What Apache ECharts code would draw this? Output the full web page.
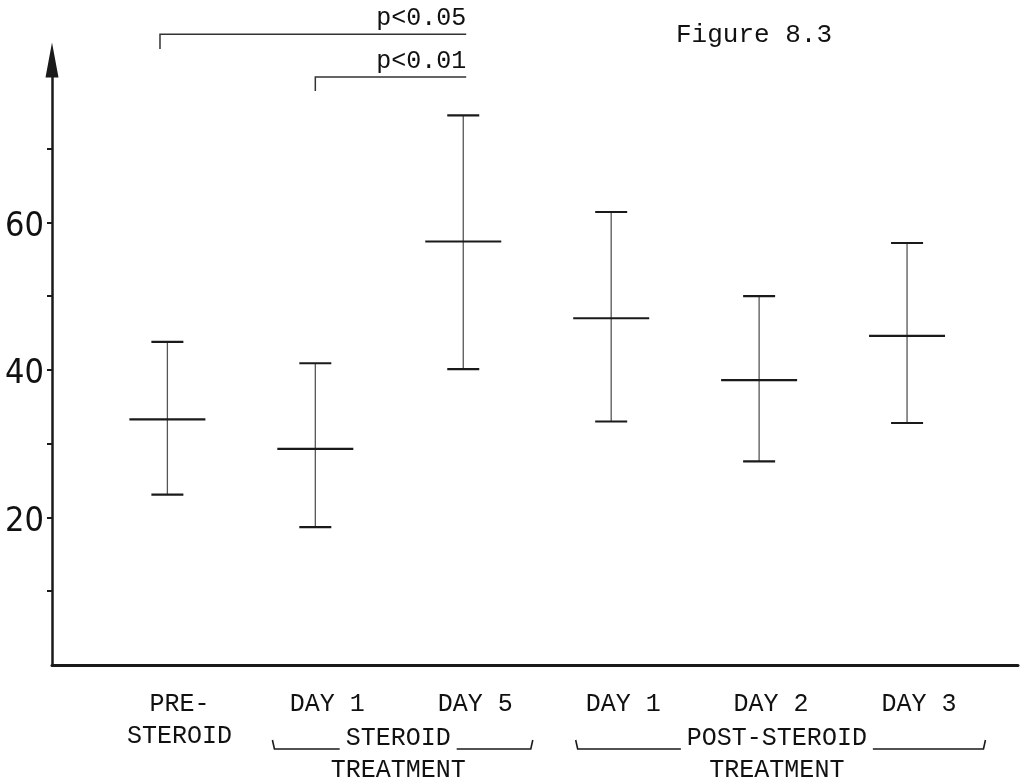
<!DOCTYPE html>
<html><head><meta charset="utf-8">
<script src="https://cdn.jsdelivr.net/npm/echarts@6/dist/echarts.min.js"></script>
<style>html,body{margin:0;padding:0;background:#fff}#c{width:1032px;height:782px}</style>
</head><body><div id="c"></div>
<script>
// ---- data ----
const categories = ['PRE-\nSTEROID', 'DAY 1', 'DAY 5', 'DAY 1', 'DAY 2', 'DAY 3'];
const means = [33.3, 29.3, 57.4, 47.0, 38.6, 44.6];
const upper = [43.8, 40.9, 74.5, 61.4, 50.0, 57.2];
const lower = [23.1, 18.7, 40.1, 33.0, 27.6, 32.8];
const yTickValues = [10, 20, 30, 40, 50, 60, 70];
const yLabelValues = [20, 40, 60];
const groupNames = ['STEROID', 'POST-STEROID'];
const groupSub = ['TREATMENT', 'TREATMENT'];
const groupStart = [1.71, 3.76];
const groupEnd = [3.47, 6.53];
const groupCenter = [2.56, 5.12];
const sigLabels = ['p<0.05', 'p<0.01'];
const sigFrom = [0.95, 2];
const sigTo = [3.02, 3.02];
const sigLevel = [85.5, 79.7];
const sigDrop = [83.5, 77.8];

const MONO = "'Liberation Mono','DejaVu Sans Mono',monospace";
const NARROW = "'Liberation Sans Narrow','DejaVu Sans Condensed','Roboto Condensed','Liberation Sans',sans-serif";
const INK = '#1a1a1a';
const TXT = '#111';

const chart = echarts.init(document.getElementById('c'), null, {renderer: 'canvas'});

const option = {
  animation: false,
  backgroundColor: '#ffffff',
  title: {
    text: 'Figure 8.3', left: 671, top: 17,
    textStyle: {fontFamily: MONO, fontSize: 26, fontWeight: 'normal', color: TXT}
  },
  grid: {left: 52, right: 14, top: 60, bottom: 117, containLabel: false},
  xAxis: {
    type: 'value', min: 0.22, max: 6.75,
    splitLine: {show: false},
    axisLine: {show: true, lineStyle: {color: INK, width: 3}},
    axisTick: {show: false},
    axisLabel: {
      show: true, customValues: [1, 2, 3, 4, 5, 6],
      formatter: v => categories[Math.round(v) - 1],
      fontFamily: MONO, fontSize: 25, color: TXT, lineHeight: 32,
      margin: 23, padding: [0, 0, 0, 24]
    }
  },
  yAxis: {
    type: 'value', min: 0, max: 82,
    splitLine: {show: false},
    axisLine: {
      show: true, lineStyle: {color: INK, width: 2.5},
      symbol: ['none', 'path://M6.5 0L13 35L0 35Z M6.5 11L9 32L4 32Z'],
      symbolSize: [13, 35]
    },
    axisTick: {show: true, customValues: yTickValues, length: 5, lineStyle: {color: INK, width: 2}},
    axisLabel: {
      show: true, customValues: yLabelValues, margin: 8,
      formatter: '{n|{value}}',
      rich: {n: {fontFamily: NARROW, fontSize: 34, color: TXT, padding: [9, 0, 0, 0]}}
    }
  },
  series: [
    {
      type: 'custom', name: 'error bars', clip: false,
      data: categories.map((c, i) => [i + 1, lower[i], means[i], upper[i]]),
      encode: {x: 0, y: [1, 2, 3]},
      renderItem: function (params, api) {
        const x = api.value(0);
        const lo = api.coord([x, api.value(1)]);
        const mid = api.coord([x, api.value(2)]);
        const hi = api.coord([x, api.value(3)]);
        const cap = 16, half = 38;
        return {
          type: 'group', children: [
            {type: 'line', shape: {x1: lo[0], y1: lo[1], x2: hi[0], y2: hi[1]}, style: {stroke: '#555', lineWidth: 1.3}},
            {type: 'line', shape: {x1: hi[0] - cap, y1: hi[1], x2: hi[0] + cap, y2: hi[1]}, style: {stroke: INK, lineWidth: 2.2}},
            {type: 'line', shape: {x1: lo[0] - cap, y1: lo[1], x2: lo[0] + cap, y2: lo[1]}, style: {stroke: INK, lineWidth: 2.2}},
            {type: 'line', shape: {x1: mid[0] - half, y1: mid[1], x2: mid[0] + half, y2: mid[1]}, style: {stroke: INK, lineWidth: 2.2}}
          ]
        };
      }
    },
    {
      type: 'custom', name: 'groups', clip: false, silent: true,
      data: groupNames.map((g, i) => [groupCenter[i], 0]),
      renderItem: function (params, api) {
        const i = params.dataIndex;
        const base = api.coord([groupCenter[i], 0]);
        const cx = base[0], y0 = base[1];
        const xs = api.coord([groupStart[i], 0])[0];
        const xe = api.coord([groupEnd[i], 0])[0];
        const fs = 25;
        const tw = groupNames[i].length * fs * 0.6;
        const lineY = y0 + 84, hookTop = y0 + 75;
        const st = {stroke: INK, lineWidth: 1.6, fill: null};
        return {
          type: 'group', children: [
            {type: 'text', x: cx, y: y0 + 73, style: {text: groupNames[i], fontFamily: MONO, fontSize: fs, fill: TXT, align: 'center', verticalAlign: 'middle'}},
            {type: 'text', x: cx, y: y0 + 105, style: {text: groupSub[i], fontFamily: MONO, fontSize: fs, fill: TXT, align: 'center', verticalAlign: 'middle'}},
            {type: 'polyline', shape: {points: [[xs, hookTop], [xs + 2, lineY], [cx - tw / 2 - 6, lineY]]}, style: st},
            {type: 'polyline', shape: {points: [[cx + tw / 2 + 6, lineY], [xe - 2, lineY], [xe, hookTop]]}, style: st}
          ]
        };
      }
    },
    {
      type: 'custom', name: 'significance', clip: false, silent: true,
      data: sigLabels.map((s, i) => [sigTo[i], sigLevel[i]]),
      renderItem: function (params, api) {
        const i = params.dataIndex;
        const a = api.coord([sigFrom[i], sigLevel[i]]);
        const b = api.coord([sigTo[i], sigLevel[i]]);
        const d = api.coord([sigFrom[i], sigDrop[i]]);
        const st = {stroke: '#333', lineWidth: 1.5, fill: null};
        return {
          type: 'group', children: [
            {type: 'polyline', shape: {points: [[d[0], d[1]], [a[0], a[1]], [b[0], b[1]]]}, style: st},
            {type: 'text', x: b[0], y: b[1] - 3, style: {text: sigLabels[i], fontFamily: MONO, fontSize: 25, fill: TXT, align: 'right', verticalAlign: 'bottom'}}
          ]
        };
      }
    }
  ]
};
chart.setOption(option);
</script>
</body></html>
